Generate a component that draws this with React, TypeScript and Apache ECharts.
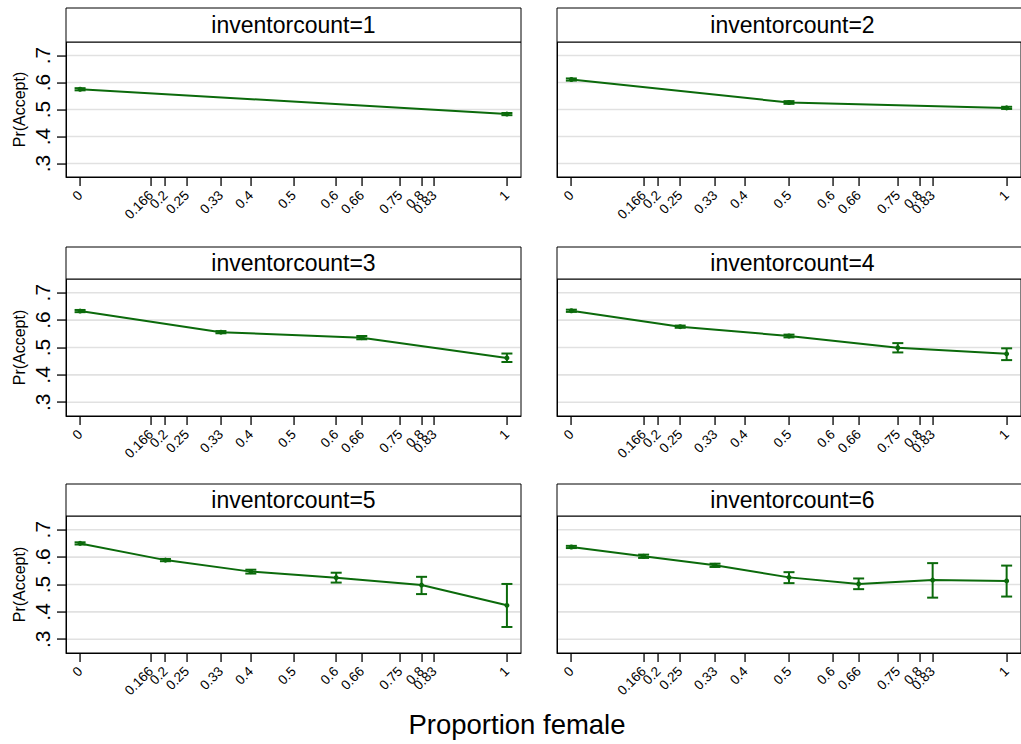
import React, { useEffect, useRef } from "react";
import * as echarts from "echarts";

const xTicks = [0, 0.166, 0.2, 0.25, 0.33, 0.4, 0.5, 0.6, 0.66, 0.75, 0.8, 0.83, 1];
const xTickLabels = ["0", "0.166", "0.2", "0.25", "0.33", "0.4", "0.5", "0.6", "0.66", "0.75", "0.8", "0.83", "1"];
const yTicks = [0.3, 0.4, 0.5, 0.6, 0.7];
const yTickLabels = [".3", ".4", ".5", ".6", ".7"];
const panelTitles = [
  "inventorcount=1",
  "inventorcount=2",
  "inventorcount=3",
  "inventorcount=4",
  "inventorcount=5",
  "inventorcount=6",
];

const p1X = [0, 1];
const p1Y = [0.575, 0.483];
const p1Lo = [0.571, 0.479];
const p1Hi = [0.579, 0.487];

const p2X = [0, 0.5, 1];
const p2Y = [0.611, 0.526, 0.506];
const p2Lo = [0.607, 0.521, 0.502];
const p2Hi = [0.615, 0.531, 0.51];

const p3X = [0, 0.33, 0.66, 1];
const p3Y = [0.633, 0.556, 0.536, 0.462];
const p3Lo = [0.629, 0.552, 0.53, 0.447];
const p3Hi = [0.637, 0.56, 0.542, 0.478];

const p4X = [0, 0.25, 0.5, 0.75, 1];
const p4Y = [0.634, 0.576, 0.542, 0.499, 0.477];
const p4Lo = [0.63, 0.572, 0.537, 0.482, 0.454];
const p4Hi = [0.638, 0.58, 0.547, 0.516, 0.497];

const p5X = [0, 0.2, 0.4, 0.6, 0.8, 1];
const p5Y = [0.65, 0.589, 0.547, 0.525, 0.498, 0.424];
const p5Lo = [0.646, 0.585, 0.54, 0.507, 0.465, 0.345];
const p5Hi = [0.654, 0.593, 0.554, 0.543, 0.528, 0.502];

const p6X = [0, 0.166, 0.33, 0.5, 0.66, 0.83, 1];
const p6Y = [0.637, 0.603, 0.57, 0.526, 0.502, 0.516, 0.513];
const p6Lo = [0.633, 0.597, 0.564, 0.505, 0.483, 0.452, 0.456];
const p6Hi = [0.641, 0.609, 0.576, 0.545, 0.522, 0.578, 0.569];

const panels = [
  { x: p1X, y: p1Y, lo: p1Lo, hi: p1Hi },
  { x: p2X, y: p2Y, lo: p2Lo, hi: p2Hi },
  { x: p3X, y: p3Y, lo: p3Lo, hi: p3Hi },
  { x: p4X, y: p4Y, lo: p4Lo, hi: p4Hi },
  { x: p5X, y: p5Y, lo: p5Lo, hi: p5Hi },
  { x: p6X, y: p6Y, lo: p6Lo, hi: p6Hi },
];

const FONT = '"Liberation Sans", Helvetica, Arial, sans-serif';
const GREEN = "#0b6a0b";

export default function App() {
  const ref = useRef<HTMLDivElement>(null);

  useEffect(() => {
    const chart = echarts.init(ref.current as HTMLDivElement, null, { renderer: "svg" });

    const colLeft = [66, 557];
    const colWidth = [455, 471];
    const rowTop = [42, 279, 516];
    const rowHeight = [135, 137, 137];
    const headerTop = [8, 247, 484];
    const TICK = 9;

    const grids: any[] = [];
    const xAxes: any[] = [];
    const yAxes: any[] = [];
    const series: any[] = [];
    const graphics: any[] = [];

    panels.forEach((p, i) => {
      const r = Math.floor(i / 2);
      const c = i % 2;
      grids.push({
        left: colLeft[c],
        top: rowTop[r],
        width: colWidth[c],
        height: rowHeight[r],
        show: true,
        borderColor: "#000",
        borderWidth: 1,
        backgroundColor: "#fff",
        containLabel: false,
      });
      xAxes.push({
        type: "value",
        gridIndex: i,
        min: -0.033,
        max: 1.033,
        axisLine: { show: true, onZero: false, lineStyle: { color: "#000", width: 1 } },
        axisTick: { show: false },
        axisLabel: {
          show: true,
          customValues: xTicks,
          rotate: 45,
          margin: 16,
          fontSize: 13.5,
          color: "#000",
          fontFamily: FONT,
          formatter: (v: number) => {
            const k = xTicks.indexOf(v);
            return k >= 0 ? xTickLabels[k] : String(v);
          },
        },
        splitLine: { show: false },
      });
      yAxes.push({
        type: "value",
        gridIndex: i,
        min: 0.25,
        max: 0.75,
        name: c === 0 ? "Pr(Accept)" : "",
        nameLocation: "middle",
        nameGap: 39,
        nameTextStyle: { fontSize: 16, color: "#000", fontFamily: FONT },
        axisLine: { show: true, onZero: false, lineStyle: { color: "#000", width: 1 } },
        axisTick: { show: false },
        axisLabel: {
          show: c === 0,
          customValues: yTicks,
          rotate: 90,
          margin: 13,
          fontSize: 21,
          color: "#000",
          fontFamily: FONT,
          formatter: (v: number) => {
            const k = yTicks.indexOf(v);
            return k >= 0 ? yTickLabels[k] : String(v);
          },
        },
        splitLine: { show: false },
      });

      // gridlines
      series.push({
        type: "custom",
        xAxisIndex: i,
        yAxisIndex: i,
        z: 1,
        silent: true,
        data: yTicks.map((v) => [0, v]),
        renderItem: (params: any, api: any) => {
          const pt = api.coord([0, api.value(1)]);
          const cs = params.coordSys;
          return {
            type: "line",
            shape: { x1: cs.x + 1, y1: pt[1], x2: cs.x + cs.width - 1, y2: pt[1] },
            style: { stroke: "#e1e1e1", lineWidth: 1.6 },
          };
        },
      });

      // x tick marks, outside the plot area
      series.push({
        type: "custom",
        xAxisIndex: i,
        yAxisIndex: i,
        z: 5,
        silent: true,
        clip: false,
        data: xTicks.map((v) => [v, 0.25]),
        renderItem: (params: any, api: any) => {
          const pt = api.coord([api.value(0), api.value(1)]);
          const cs = params.coordSys;
          const yb = cs.y + cs.height;
          return {
            type: "rect",
            shape: { x: Math.round(pt[0]) - 0.6, y: yb, width: 1.3, height: TICK },
            style: { fill: "#000" },
          };
        },
      });
      // y tick marks (left column only)
      if (c === 0) {
        series.push({
          type: "custom",
          xAxisIndex: i,
          yAxisIndex: i,
          z: 5,
          silent: true,
          clip: false,
          data: yTicks.map((v) => [-0.033, v]),
          renderItem: (params: any, api: any) => {
            const pt = api.coord([api.value(0), api.value(1)]);
            const cs = params.coordSys;
            return {
              type: "rect",
              shape: { x: cs.x - TICK, y: Math.round(pt[1]) - 0.6, width: TICK, height: 1.3 },
              style: { fill: "#000" },
            };
          },
        });
      }

      // error bars
      series.push({
        type: "custom",
        xAxisIndex: i,
        yAxisIndex: i,
        z: 3,
        silent: true,
        data: p.x.map((xv, k) => [xv, p.lo[k], p.hi[k]]),
        renderItem: (_params: any, api: any) => {
          const a = api.coord([api.value(0), api.value(1)]);
          const b = api.coord([api.value(0), api.value(2)]);
          const hw = 5.5;
          const st = { stroke: GREEN, lineWidth: 2 };
          return {
            type: "group",
            children: [
              { type: "line", shape: { x1: a[0], y1: a[1], x2: b[0], y2: b[1] }, style: st },
              { type: "line", shape: { x1: a[0] - hw, y1: a[1], x2: a[0] + hw, y2: a[1] }, style: st },
              { type: "line", shape: { x1: b[0] - hw, y1: b[1], x2: b[0] + hw, y2: b[1] }, style: st },
            ],
          };
        },
      });

      // line with markers
      series.push({
        type: "line",
        xAxisIndex: i,
        yAxisIndex: i,
        z: 4,
        data: p.x.map((xv, k) => [xv, p.y[k]]),
        symbol: "circle",
        symbolSize: 5,
        showSymbol: true,
        lineStyle: { color: GREEN, width: 2 },
        itemStyle: { color: GREEN },
        silent: true,
      });

      // header box
      const hx = colLeft[c];
      const hy = headerTop[r];
      const hw = colWidth[c];
      const hh = rowTop[r] - headerTop[r];
      graphics.push({
        type: "rect",
        shape: { x: hx, y: hy, width: hw, height: hh },
        style: { fill: "#fff", stroke: "#000", lineWidth: 1 },
        z: 10,
      });
      graphics.push({
        type: "text",
        x: hx + hw / 2,
        y: hy + hh / 2,
        style: {
          text: panelTitles[i],
          fontSize: 23,
          fontFamily: FONT,
          fill: "#000",
          align: "center",
          verticalAlign: "middle",
        },
        z: 11,
      });
    });

    graphics.push({
      type: "text",
      x: 517,
      y: 724,
      style: {
        text: "Proportion female",
        fontSize: 27.5,
        fontFamily: FONT,
        fill: "#000",
        align: "center",
        verticalAlign: "middle",
      },
      z: 11,
    });

    chart.setOption({
      animation: false,
      backgroundColor: "#fff",
      textStyle: { fontFamily: FONT },
      grid: grids,
      xAxis: xAxes,
      yAxis: yAxes,
      series,
      graphic: graphics,
    });

    return () => chart.dispose();
  }, []);

  return (
    <div
      ref={ref}
      style={{ position: "fixed", left: 0, top: 0, width: 1021, height: 744, background: "#fff" }}
    />
  );
}
